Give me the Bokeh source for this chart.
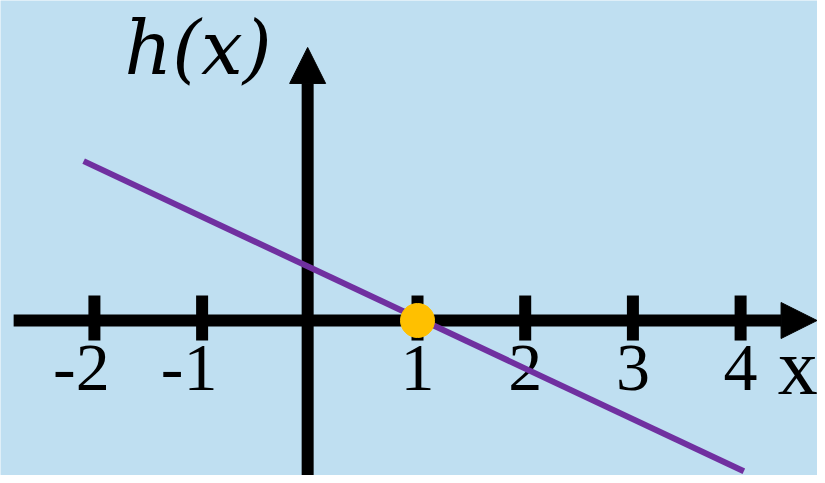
from bokeh.plotting import figure
from bokeh.models import Arrow, NormalHead, Range1d, ColumnDataSource
from bokeh.core.properties import value
from bokeh.embed import file_html
from bokeh.resources import INLINE

# ---- data ----
tick_values = [-2, -1, 1, 2, 3, 4]
tick_labels = ["-2", "-1", "1", "2", "3", "4"]
line_x = [-2.1, 4.03]
line_y = [1.48, -1.40]
root_x = [1]
root_y = [0]

# ---- styles ----
BG = "#bfdff1"
PURPLE = "#7030a0"
GOLD = "#ffc000"

p = figure(width=817, height=475,
           x_range=Range1d(-2.872, 4.714), y_range=Range1d(-1.439, 2.971),
           x_axis_type=None, y_axis_type=None,
           output_backend="svg", toolbar_location=None, min_border=0,
           background_fill_color=BG, border_fill_color=BG,
           outline_line_color=None)
p.grid.visible = False

# axes with arrow heads
x_axis_arrow = Arrow(end=NormalHead(size=36, fill_color="black", line_color="black", line_width=1),
                     x_start=-2.75, y_start=0, x_end=4.71, y_end=0,
                     line_width=12, line_color="black", level="underlay")
y_axis_arrow = Arrow(end=NormalHead(size=36, fill_color="black", line_color="black", line_width=1),
                     x_start=-0.02, y_start=-1.6, x_end=-0.02, y_end=2.535,
                     line_width=12, line_color="black", level="underlay")
p.add_layout(x_axis_arrow)
p.add_layout(y_axis_arrow)

# tick marks
p.segment(x0=tick_values, y0=[0.232] * len(tick_values), x1=tick_values, y1=[-0.186] * len(tick_values),
          line_width=12, line_color="black", line_cap="butt")

# tick labels (digit centred on the tick, minus sign hanging left)
src = ColumnDataSource(dict(x=tick_values, y=[-0.44] * len(tick_values), t=tick_labels,
                            off=[-13 if t.startswith("-") else 0 for t in tick_labels]))
p.text(x="x", y="y", text="t", x_offset="off", source=src,
       text_font=value("Liberation Serif"), text_font_size="68px",
       text_align="center", text_baseline="alphabetic", text_color="black")

# axis names
p.text(x=[4.53], y=[-0.43], text=["x"], text_font=value("Liberation Serif"),
       text_font_size="80px", text_align="center", text_baseline="alphabetic", text_color="black")
p.text(x=[-1.72], y=[2.53], text=["h(x)"], text_font=value("DejaVu Serif"),
       text_font_style="italic", text_font_size="74px",
       text_align="left", text_baseline="alphabetic", text_color="black")

# function line and root
p.line(line_x, line_y, line_width=6, line_color=PURPLE, line_cap="butt")
p.scatter(root_x, root_y, size=34, fill_color=GOLD, line_color=GOLD)

open("out.html", "w").write(file_html(p, INLINE))
